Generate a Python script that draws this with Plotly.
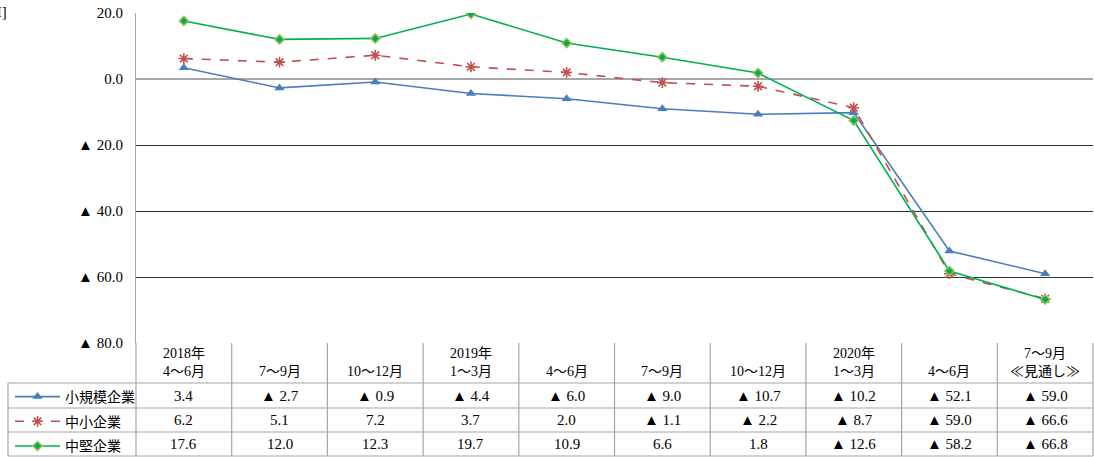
import plotly.graph_objects as go

# Quarterly survey values (negative = decline, shown with ▲)
periods = ["2018年<br>4～6月", "7～9月", "10～12月", "2019年<br>1～3月", "4～6月",
           "7～9月", "10～12月", "2020年<br>1～3月", "4～6月", "7～9月<br>≪見通し≫"]
small_biz = [3.4, -2.7, -0.9, -4.4, -6.0, -9.0, -10.7, -10.2, -52.1, -59.0]
sme_biz = [6.2, 5.1, 7.2, 3.7, 2.0, -1.1, -2.2, -8.7, -59.0, -66.6]
mid_biz = [17.6, 12.0, 12.3, 19.7, 10.9, 6.6, 1.8, -12.6, -58.2, -66.8]
series_names = ["小規模企業", "中小企業", "中堅企業"]

y_ticks = [20, 0, -20, -40, -60, -80]
y_tick_text = ["20.0", "0.0", "▲ 20.0", "▲ 40.0", "▲ 60.0", "▲ 80.0"]

W, H = 1094, 457
L, R, T, B = 136, 1, 13, 114
pw, ph = W - L - R, H - T - B
FONT = "'Liberation Serif', 'Noto Sans CJK JP', serif"
GRID = "#a6a6a6"


def px_x(px):
    return (px - L) / pw


def px_y(py):
    return (H - B - py) / ph


def fmt(v):
    return f"▲ {abs(v):.1f}" if v < 0 else f"{v:.1f}"


xs = list(range(len(periods)))
series = [small_biz, sme_biz, mid_biz]
styles = [
    dict(line=dict(color="#4A7EBB", width=1.6),
         marker=dict(symbol="triangle-up", size=9, color="#4A7EBB")),
    dict(line=dict(color="#C0504D", width=1.6, dash="dash"),
         marker=dict(symbol="asterisk-open", size=9,
                     line=dict(color="#C0504D", width=1.6))),
    dict(line=dict(color="#00B050", width=1.6),
         marker=dict(symbol="diamond", size=7, color="#00B050",
                     line=dict(color="#9BBB59", width=1.5))),
]

fig = go.Figure()
for i, (name, vals, st) in enumerate(zip(series_names, series, styles)):
    fig.add_trace(go.Scatter(x=xs, y=vals, name=name, mode="lines+markers",
                             legendgroup=f"g{i}", **st))

shapes = []
annos = []
n = len(periods)
# table grid
x_left = px_x(8)
row_edges = [343, 383, 408, 432, 456]
for k in range(n + 1):
    shapes.append(dict(type="line", xref="paper", yref="paper",
                       x0=k / n, x1=k / n, y0=px_y(343), y1=px_y(456),
                       line=dict(color=GRID, width=1.2)))
shapes.append(dict(type="line", xref="paper", yref="paper",
                   x0=x_left, x1=x_left, y0=px_y(383), y1=px_y(456),
                   line=dict(color=GRID, width=1.2)))
for py in row_edges[1:]:
    shapes.append(dict(type="line", xref="paper", yref="paper",
                       x0=x_left, x1=1, y0=px_y(py), y1=px_y(py),
                       line=dict(color=GRID, width=1.2)))

# header cells
for i, p in enumerate(periods):
    annos.append(dict(x=i, y=px_y(381), xref="x", yref="paper", text=p,
                      showarrow=False, yanchor="bottom", xanchor="center",
                      font=dict(family=FONT, size=14, color="#000")))
# value cells
row_centers = [395.5, 420, 444]
for vals, yc in zip(series, row_centers):
    for i, v in enumerate(vals):
        annos.append(dict(x=i, y=px_y(yc), xref="x", yref="paper", text=fmt(v),
                          showarrow=False, yanchor="middle", xanchor="center",
                          font=dict(family=FONT, size=15, color="#000")))

# unit label at top-left
annos.append(dict(x=px_x(9), y=px_y(12), xref="paper", yref="paper", text="[DI]",
                  showarrow=False, xanchor="right", yanchor="middle",
                  font=dict(family=FONT, size=15, color="#000")))

fig.update_layout(
    width=W, height=H,
    margin=dict(l=L, r=R, t=T, b=B, autoexpand=False),
    paper_bgcolor="white", plot_bgcolor="white",
    showlegend=True,
    legend=dict(x=px_x(10), y=px_y(381), xanchor="left", yanchor="top",
                font=dict(family=FONT, size=14, color="#000"),
                tracegroupgap=3.5, bgcolor="rgba(0,0,0,0)",
                itemwidth=45),
    shapes=shapes,
    annotations=annos,
    xaxis=dict(range=[-0.5, n - 0.5], showticklabels=False, showgrid=False,
               zeroline=False, showline=False, fixedrange=True),
    yaxis=dict(range=[-80, 20], tickvals=y_ticks, ticktext=y_tick_text,
               showgrid=True, gridcolor="#333333", gridwidth=1.2,
               zeroline=True, zerolinecolor="#a6a6a6", zerolinewidth=1.5,
               showline=True, linecolor=GRID, linewidth=1.2,
               ticks="", ticklabelstandoff=9,
               tickfont=dict(family=FONT, size=15, color="#000")),
)

fig.write_html("out.html")
